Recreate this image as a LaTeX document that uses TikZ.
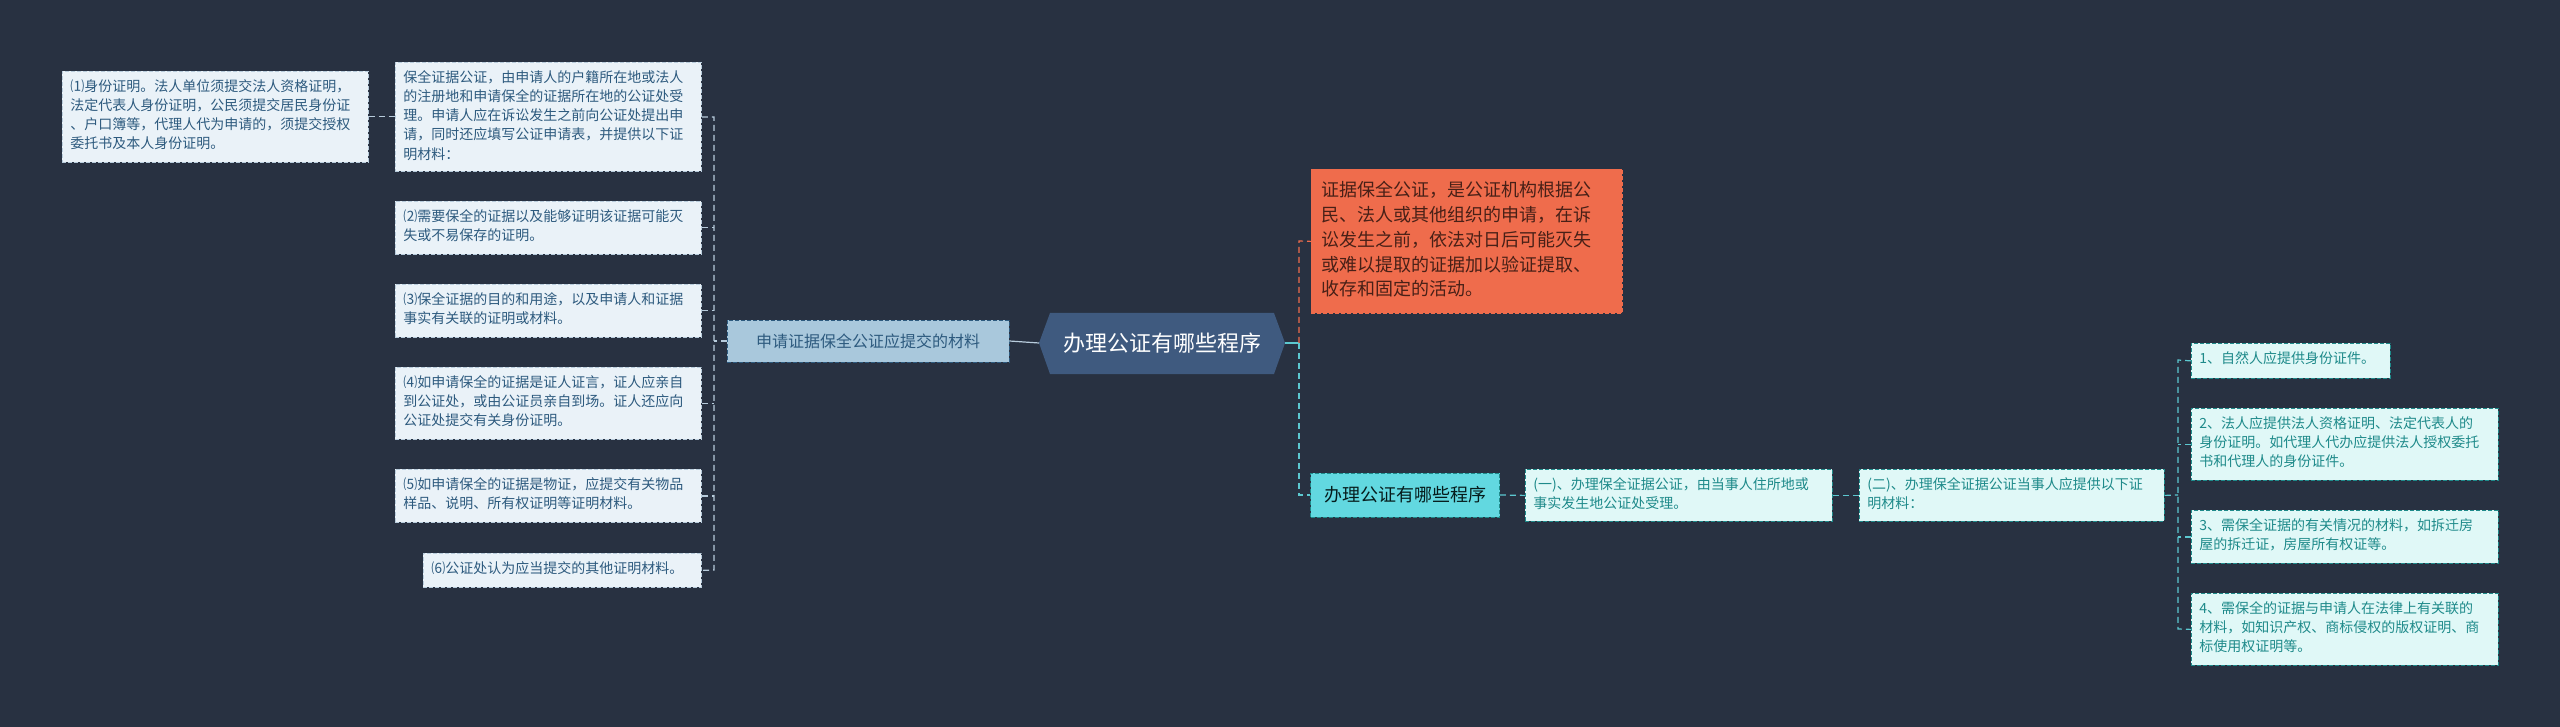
\documentclass[tikz,border=0pt]{standalone}
\usepackage{fontspec}
\setmainfont{Noto Sans CJK SC}
\begin{document}
\begin{tikzpicture}[x=0.5pt,y=-0.5pt,
  lbox/.style={draw=#1, dashed, dash pattern=on 2pt off 1pt, line width=0.4pt, inner sep=0pt, anchor=north west, align=left},
  ltxt/.style={font=\fontsize{7}{9.6}\selectfont, text=blue1},
  con/.style={draw=#1, dashed, dash pattern=on 3pt off 2pt, line width=0.6pt}]
\definecolor{bg}{HTML}{283141}
\definecolor{lfill}{HTML}{EAF2F8}
\definecolor{blue1}{HTML}{2D5A7E}
\definecolor{cfill}{HTML}{E0F8F7}
\definecolor{teal1}{HTML}{1E8A8A}
\definecolor{orng}{HTML}{EF6C4C}
\definecolor{hubc}{HTML}{3F5A7F}
\definecolor{matc}{HTML}{A9C8DC}
\definecolor{cyanc}{HTML}{62D8E0}
\definecolor{lline}{HTML}{B8CCDC}
\definecolor{cline}{HTML}{5CC8D0}
\fill[bg] (0,0) rectangle (2560,727);
\useasboundingbox (0,0) rectangle (2560,727);

% hub
\fill[hubc] (1039,343)--(1050,313)--(1274,313)--(1285,343)--(1274,374)--(1050,374)--cycle;
\node[text=white, font=\fontsize{11}{13}\selectfont] (hub) at (1162,343) {办理公证有哪些程序};
\coordinate (hubW) at (1039,343);
\coordinate (hubE) at (1285,343);

% left branch
\node[lbox=blue1, fill=matc, minimum width=141pt, minimum height=21pt, text=blue1, font=\fontsize{8}{10}\selectfont, align=center, anchor=center] (mat) at (868,341) {申请证据保全公证应提交的材料};

\newcommand{\lb}[6]{\node[lbox=lline, fill=lfill, minimum width=#3, minimum height=#4] (#1) at #2 {};
  \node[ltxt, anchor=north west, align=left, inner sep=0pt] at ([xshift=4pt,yshift=-4pt]#1.north west) {#6};}
\lb{intro}{(395,62)}{153pt}{54.5pt}{}{保全证据公证，由申请人的户籍所在地或法人\\的注册地和申请保全的证据所在地的公证处受\\理。申请人应在诉讼发生之前向公证处提出申\\请，同时还应填写公证申请表，并提供以下证\\明材料：}
\lb{p1}{(62,71)}{153pt}{45.5pt}{}{⑴身份证明。法人单位须提交法人资格证明，\\法定代表人身份证明，公民须提交居民身份证\\、户口簿等，代理人代为申请的，须提交授权\\委托书及本人身份证明。}
\lb{p2}{(395,201)}{153pt}{26.5pt}{}{⑵需要保全的证据以及能够证明该证据可能灭\\失或不易保存的证明。}
\lb{p3}{(395,284)}{153pt}{26.5pt}{}{⑶保全证据的目的和用途，以及申请人和证据\\事实有关联的证明或材料。}
\lb{p4}{(395,367)}{153pt}{36pt}{}{⑷如申请保全的证据是证人证言，证人应亲自\\到公证处，或由公证员亲自到场。证人还应向\\公证处提交有关身份证明。}
\lb{p5}{(395,469)}{153pt}{26.5pt}{}{⑸如申请保全的证据是物证，应提交有关物品\\样品、说明、所有权证明等证明材料。}
\lb{p6}{(423,553)}{139pt}{17pt}{}{⑹公证处认为应当提交的其他证明材料。}

\draw[lline, line width=0.6pt] (hubW) -- (mat.east);
\coordinate (lj) at (714,341);
\draw[con=lline] (mat.west) -- (lj);
\draw[con=lline] (intro.east) -- (714,117) -- (714,570) -- (p6.east);
\foreach \n in {p2,p3,p4,p5} \draw[con=lline] (\n.east) -- (lj |- \n.east);
\draw[con=lline] (p1.east) -- (intro.west);

% right branch
\node[lbox=orng, fill=orng, minimum width=155.5pt, minimum height=72pt, text=black!70!orng, font=\fontsize{9}{12.4}\selectfont, anchor=north west] (def) at (1311,169) {};
\node[text=black!70!orng, font=\fontsize{9}{12.4}\selectfont, align=left, inner sep=0pt, anchor=north west] at ([xshift=5pt,yshift=-6pt]def.north west) {证据保全公证，是公证机构根据公\\民、法人或其他组织的申请，在诉\\讼发生之前，依法对日后可能灭失\\或难以提取的证据加以验证提取、\\收存和固定的活动。};
\node[lbox=teal1, fill=cyanc, minimum width=94.5pt, minimum height=22pt, text=black!80!teal1, font=\fontsize{9}{11}\selectfont, anchor=center, align=center] (proc) at (1405,495) {办理公证有哪些程序};
\coordinate (rj) at (1299,343);
\draw[cline, line width=0.6pt] (hubE) -- (rj);
\draw[con=orng] (rj) -- (1299,241) -- (def.west);
\draw[con=cline] (rj) -- (1299,495) -- (proc.west);

\newcommand{\cb}[5]{\node[lbox=teal1, fill=cfill, minimum width=#3, minimum height=#4] (#1) at #2 {};
  \node[font=\fontsize{7}{9.6}\selectfont, text=teal1, anchor=north west, align=left, inner sep=0pt] at ([xshift=4pt,yshift=-4pt]#1.north west) {#5};}
\cb{s1}{(1525,469)}{153.5pt}{26pt}{(一)、办理保全证据公证，由当事人住所地或\\事实发生地公证处受理。}
\cb{s2}{(1859,469)}{152.5pt}{26pt}{(二)、办理保全证据公证当事人应提供以下证\\明材料：}
\cb{r1}{(2191,343)}{99.5pt}{17.5pt}{1、自然人应提供身份证件。}
\cb{r2}{(2191,408)}{153.5pt}{36pt}{2、法人应提供法人资格证明、法定代表人的\\身份证明。如代理人代办应提供法人授权委托\\书和代理人的身份证件。}
\cb{r3}{(2191,510)}{153.5pt}{26.5pt}{3、需保全证据的有关情况的材料，如拆迁房\\屋的拆迁证，房屋所有权证等。}
\cb{r4}{(2191,593)}{153.5pt}{36pt}{4、需保全的证据与申请人在法律上有关联的\\材料，如知识产权、商标侵权的版权证明、商\\标使用权证明等。}
\draw[con=cline] (proc.east) -- (s1.west);
\draw[con=cline] (s1.east) -- (s2.west);
\coordinate (rk) at (2178,495);
\draw[con=cline] (s2.east) -- (rk);
\draw[con=cline] (r1.west) -- (2178,360) -- (2178,629) -- (r4.west);
\foreach \n in {r2,r3} \draw[con=cline] (\n.west) -- (rk |- \n.west);
\end{tikzpicture}
\end{document}
